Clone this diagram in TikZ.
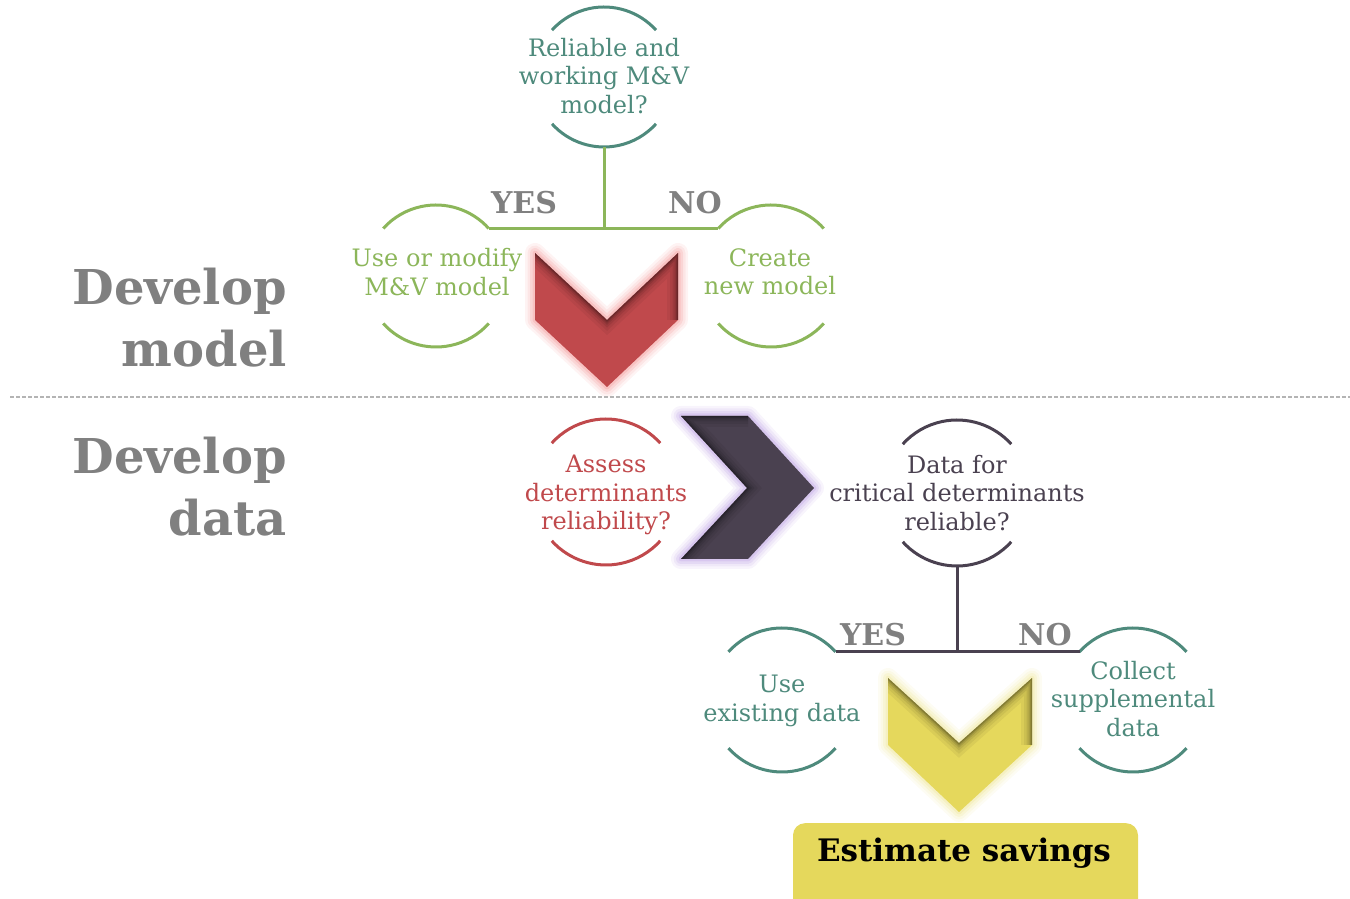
\documentclass[tikz,border=0pt]{standalone}
\usepackage{fontspec}
\setmainfont{DejaVu Serif}
\usetikzlibrary{calc}

\definecolor{tealc}{HTML}{4E8A7C}
\definecolor{greenc}{HTML}{8CB65A}
\definecolor{redc}{HTML}{C0494C}
\definecolor{darkc}{HTML}{4A4150}
\definecolor{labelgray}{HTML}{808080}
\definecolor{yellowc}{HTML}{E5D85C}
\definecolor{redglow}{HTML}{F4A0A0}
\definecolor{darkglow}{HTML}{C2A8E6}
\definecolor{yellowglow}{HTML}{F0E8A0}
\definecolor{rulegray}{HTML}{B4B4B4}

% soft halo round a closed polygon, then its fill
\newcommand\haloshape[3]{%
  \foreach \w/\o in {20/0.12,15/0.16,10/0.24,5/0.36}
    \draw[#2, line width=\w pt, opacity=\o, line join=round] #1 -- cycle;
  \fill[#3] #1 -- cycle;}
% darker band inside the polygon along the given edges
\newcommand\innershade[2]{%
  \begin{scope}
    \clip #1 -- cycle;
    \foreach \w/\o in {22/0.05,16/0.06,11/0.08,7/0.1,4/0.12,2/0.12}
      \draw[black, line width=\w pt, opacity=\o, line join=miter] #2;
  \end{scope}}

\tikzset{
  ring/.style={circle, minimum size=#1, inner sep=0pt, outer sep=0pt},
  qtext/.style={align=center, inner sep=0pt, font=\fontsize{24}{28.5}\selectfont},
  arcline/.style={line width=3pt},
  yesno/.style={inner sep=0pt, text=labelgray, font=\bfseries\fontsize{30}{30}\selectfont},
  head/.style={anchor=base east, inner sep=0pt, text=labelgray, font=\bfseries\fontsize{48}{48}\selectfont},
}

\begin{document}
\begin{tikzpicture}[x=1pt, y=1pt]
\useasboundingbox (0,0) rectangle (1350,899);

% ---------- Develop model ----------
\node[ring=140] (q1) at (604,822) {};
\node[qtext, text=tealc] (q1t) at (604,823) {Reliable and\\working M\&V\\model?};
\draw[arcline, tealc] (q1.42) arc[start angle=42, end angle=138, radius=70];
\draw[arcline, tealc] (q1.222) arc[start angle=222, end angle=318, radius=70];

\node[ring=142] (gY) at (436,623) {};
\node[ring=142] (gN) at (771,623) {};
\node[qtext, text=greenc] (gYt) at (437,627) {Use or modify\\M\&V model};
\node[qtext, text=greenc] (gNt) at (770,627) {Create\\new model};
\foreach \c in {gY,gN}{
  \draw[arcline, greenc] (\c.42) arc[start angle=42, end angle=138, radius=71];
  \draw[arcline, greenc] (\c.222) arc[start angle=222, end angle=318, radius=71];
}
\coordinate (j1) at (q1.south |- gY.42);
\draw[arcline, greenc] (q1.south) -- (j1);
\draw[arcline, greenc] (gY.42) -- (gN.138);
\node[yesno] (yes1) at (524,696) {YES};
\node[yesno] (no1) at (695,696) {NO};

\haloshape{(535,646) -- (607,579) -- (678,646) -- (678,579) -- (607,512) -- (535,579)}{redglow}{redc}
\innershade{(535,646) -- (607,579) -- (678,646) -- (678,579) -- (607,512) -- (535,579)}{(535,646) -- (607,579) -- (678,646) -- (678,579)}

\node[head] (hm1) at (287,594) {Develop};
\node[head] (hm2) at (287,532) {model};

% ---------- divider ----------
\coordinate (divL) at (10,502);
\coordinate (divR) at (1350,502);
\draw[rulegray, line width=1.1pt, dash pattern=on 4pt off 2pt] (divL) -- (divR);

% ---------- Develop data ----------
\node[head] (hd1) at (287,425) {Develop};
\node[head] (hd2) at (287,363) {data};

\node[ring=146] (aC) at (606,407) {};
\node[qtext, text=redc] (aCt) at (606,404) {Assess\\determinants\\reliability?};
\draw[arcline, redc] (aC.42) arc[start angle=42, end angle=138, radius=73];
\draw[arcline, redc] (aC.222) arc[start angle=222, end angle=318, radius=73];

\haloshape{(681,483) -- (748,483) -- (814,411) -- (748,340) -- (681,340) -- (747,411)}{darkglow}{darkc}
\innershade{(681,483) -- (748,483) -- (814,411) -- (748,340) -- (681,340) -- (747,411)}{(748,483) -- (681,483) -- (747,411) -- (681,340)}

\node[ring=146] (dC) at (957,406) {};
\node[qtext, text=darkc] (dCt) at (957,406) {Data for\\critical determinants\\reliable?};
\draw[arcline, darkc] (dC.42) arc[start angle=42, end angle=138, radius=73];
\draw[arcline, darkc] (dC.222) arc[start angle=222, end angle=318, radius=73];

\node[ring=144] (uC) at (782,199) {};
\node[ring=144] (cC) at (1133,199) {};
\node[qtext, text=tealc] (uCt) at (782,198) {Use\\existing data};
\node[qtext, text=tealc] (cCt) at (1133,200) {Collect\\supplemental\\data};
\foreach \c in {uC,cC}{
  \draw[arcline, tealc] (\c.42) arc[start angle=42, end angle=138, radius=72];
  \draw[arcline, tealc] (\c.222) arc[start angle=222, end angle=318, radius=72];
}
\coordinate (j2) at (dC.south |- uC.42);
\draw[arcline, darkc] (dC.south) -- (j2);
\draw[arcline, darkc] (uC.42) -- (cC.138);
\node[yesno] (yes2) at (873,264) {YES};
\node[yesno] (no2) at (1045,264) {NO};

\haloshape{(888,221) -- (959,156) -- (1032,221) -- (1032,154) -- (959,87) -- (888,154)}{yellowglow}{yellowc}
\innershade{(888,221) -- (959,156) -- (1032,221) -- (1032,154) -- (959,87) -- (888,154)}{(888,221) -- (959,156) -- (1032,221) -- (1032,154)}

\node[fill=yellowc, rounded corners=12pt, minimum width=345, minimum height=100, anchor=north, inner sep=0pt] (est) at (965.5,76) {};
\node[inner sep=0pt, font=\bfseries\fontsize{31}{31}\selectfont] (estt) at (964,46) {Estimate savings};
\end{tikzpicture}
\end{document}
